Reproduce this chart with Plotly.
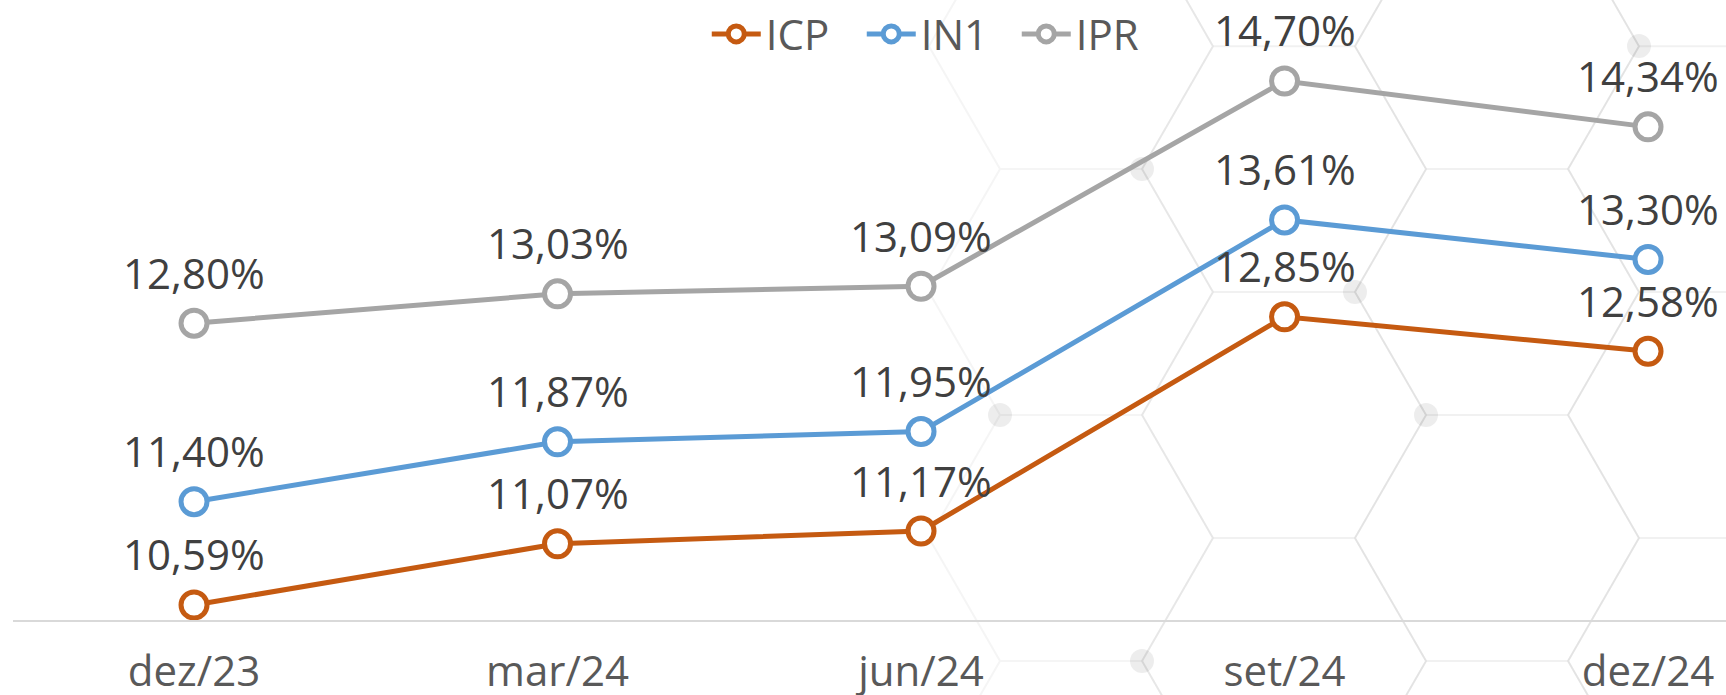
import math
import plotly.graph_objects as go

# ---- data ----
categories = ["dez/23", "mar/24", "jun/24", "set/24", "dez/24"]
icp = [10.59, 11.07, 11.17, 12.85, 12.58]
in1 = [11.40, 11.87, 11.95, 13.61, 13.30]
ipr = [12.80, 13.03, 13.09, 14.70, 14.34]

series = [
    ("ICP", icp, "#C55A11"),
    ("IN1", in1, "#5B9BD5"),
    ("IPR", ipr, "#A5A5A5"),
]

W, H = 1726, 695
ML, MR, MT, MB = 13, 0, 0, 75
PW, PH = W - ML - MR, H - MT - MB

FONT = "Open Sans"

fig = go.Figure()
for name, vals, col in series:
    fig.add_trace(go.Scatter(
        x=categories, y=vals, name=name, mode="lines+markers",
        line=dict(color=col, width=5),
        marker=dict(size=26, color="white", line=dict(color=col, width=5)),
        hoverinfo="skip",
    ))

def fmt(v):
    return f"{v:.2f}".replace(".", ",") + "%"

annotations = []
for name, vals, col in series:
    for c, v in zip(categories, vals):
        annotations.append(dict(
            x=c, y=v, xref="x", yref="y", text=fmt(v), showarrow=False,
            yshift=51, font=dict(family=FONT, size=42, color="#404040"),
        ))

# ---- decorative honeycomb background (paper coords) ----
def px2paper(X, Y):
    return (X - ML) / PW, (H - MB - Y) / PH

s = 142.0
hh = s * math.sqrt(3) / 2
cx0, cy0 = 1071.0, 538.0

def hex_vertices(j, k):
    cx = cx0 + 1.5 * s * j
    cy = cy0 + 2 * hh * k + (hh if j % 2 else 0.0)
    return [(cx + s * math.cos(math.radians(a)), cy + s * math.sin(math.radians(a)))
            for a in range(0, 360, 60)]

shapes = []
for j, op in [(0, 0.7), (1, 1.0), (2, 1.0), (3, 1.0)]:
    parts = []
    for k in range(-3, 3):
        pp = [px2paper(*p) for p in hex_vertices(j, k)]
        parts.append("M" + " L".join(f"{a:.4f},{b:.4f}" for a, b in pp) + " Z")
    shapes.append(dict(type="path", path=" ".join(parts), xref="paper", yref="paper",
                       line=dict(color="rgba(0,0,0,0.055)", width=2),
                       opacity=op, layer="below"))

# decorative dots at a few honeycomb vertices: (column, row, vertex)
dot_spots = [(0, 0, 4), (0, 0, 1), (0, -1, 5), (1, -1, 5), (2, 0, 4), (3, -2, 4)]
r = 12
for j, k, v in dot_spots:
    X, Y = hex_vertices(j, k)[v]
    x0, y0 = px2paper(X - r, Y + r)
    x1, y1 = px2paper(X + r, Y - r)
    shapes.append(dict(type="circle", xref="paper", yref="paper", x0=x0, y0=y0, x1=x1, y1=y1,
                       fillcolor="rgba(0,0,0,0.07)", line=dict(width=0), layer="below"))

fig.update_layout(
    width=W, height=H,
    margin=dict(l=ML, r=MR, t=MT, b=MB, autoexpand=False),
    paper_bgcolor="white", plot_bgcolor="rgba(0,0,0,0)",
    showlegend=True,
    legend=dict(orientation="h", x=0.405, xanchor="left", y=0.945, yanchor="middle",
                font=dict(family=FONT, size=42, color="#595959"),
                bgcolor="rgba(0,0,0,0)", itemwidth=49, entrywidth=91),
    xaxis=dict(range=[-0.498, 4.2145], showgrid=False, zeroline=False, automargin=False,
               showline=True, linecolor="#D9D9D9", linewidth=2,
               ticks="", tickfont=dict(family=FONT, size=42, color="#595959"),
               ticklabelstandoff=14),
    yaxis=dict(range=[10.472, 15.335], visible=False, showgrid=False, zeroline=False,
               automargin=False),
    annotations=annotations,
    shapes=shapes,
)

fig.write_html("out.html", config={"displayModeBar": False},
               post_script="document.body.style.margin='0';document.body.style.overflow='hidden';")
